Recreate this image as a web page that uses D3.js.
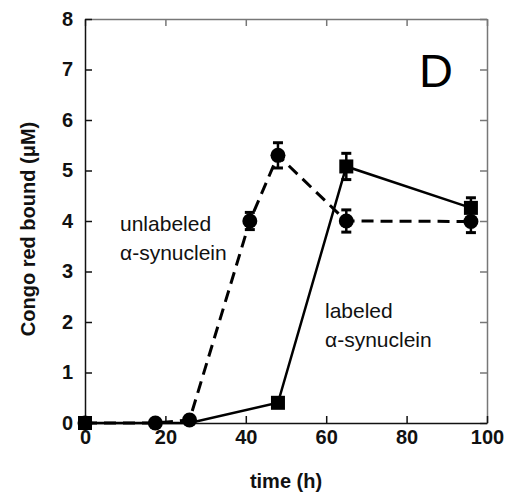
<!DOCTYPE html>
<html>
<head>
<meta charset="utf-8">
<script src="https://cdn.jsdelivr.net/npm/d3@7"></script>
<style>
  body { margin: 0; background: #fff; }
  svg { font-family: "Liberation Sans", Arial, sans-serif; }
</style>
</head>
<body>
<script>
// unlabeled alpha-synuclein (circles, dashed)
var unlabeledTime = [0, 17.5, 26, 41, 48, 65, 96];
var unlabeledValue = [0, 0, 0.06, 4.0, 5.3, 4.0, 3.99];
var unlabeledErr = [0, 0, 0, 0.17, 0.25, 0.22, 0.22];

// labeled alpha-synuclein (squares, solid)
var labeledTime = [0, 26, 48, 65, 96];
var labeledValue = [0, 0, 0.4, 5.08, 4.26];
var labeledErr = [0, 0, 0, 0.26, 0.2];
var labeledMarker = [true, false, true, true, true];

var xTicks = [0, 20, 40, 60, 80, 100];
var yTicks = [0, 1, 2, 3, 4, 5, 6, 7, 8];

var svg = d3.select("body").append("svg").attr("width", 510).attr("height", 496);

var x = d3.scaleLinear().domain([0, 100]).range([85, 487]);
var y = d3.scaleLinear().domain([0, 8]).range([423, 19]);

function styleAxis(g, col) {
  g.select(".domain").attr("stroke", col).attr("stroke-width", 1.5);
  g.selectAll(".tick line").attr("stroke", col).attr("stroke-width", 1.5);
  g.selectAll("text").attr("font-size", 20).attr("font-weight", "bold").attr("fill", "#111");
}

// top and right: ticks only
svg.append("g").attr("transform", "translate(0,19)")
  .call(d3.axisTop(x).tickValues(xTicks).tickSizeInner(-7).tickSizeOuter(0).tickFormat(""))
  .call(styleAxis, "#777");
svg.append("g").attr("transform", "translate(487,0)")
  .call(d3.axisRight(y).tickValues(yTicks).tickSizeInner(-7).tickSizeOuter(0).tickFormat(""))
  .call(styleAxis, "#777");

svg.append("g").attr("transform", "translate(0,423)")
  .call(d3.axisBottom(x).tickValues(xTicks).tickSizeInner(-7).tickSizeOuter(0).tickPadding(7))
  .call(styleAxis, "#111");
svg.append("g").attr("transform", "translate(85,0)")
  .call(d3.axisLeft(y).tickValues(yTicks).tickSizeInner(-7).tickSizeOuter(0).tickPadding(12))
  .call(styleAxis, "#111");

var unlabeled = unlabeledTime.map(function(t, i) {
  return { t: t, v: unlabeledValue[i], e: unlabeledErr[i] };
});
var labeled = labeledTime.map(function(t, i) {
  return { t: t, v: labeledValue[i], e: labeledErr[i], m: labeledMarker[i] };
});

var line = d3.line().x(function(d) { return x(d.t); }).y(function(d) { return y(d.v); });

svg.append("path").datum(labeled)
  .attr("d", line).attr("fill", "none").attr("stroke", "#000").attr("stroke-width", 2.5);
svg.append("path").datum(unlabeled)
  .attr("d", line).attr("fill", "none").attr("stroke", "#000").attr("stroke-width", 3)
  .attr("stroke-dasharray", "12,7");

function errorBars(data) {
  var g = svg.append("g").selectAll("g")
    .data(data.filter(function(d) { return d.e > 0; }))
    .enter().append("g");
  g.append("line")
    .attr("x1", function(d) { return x(d.t); }).attr("x2", function(d) { return x(d.t); })
    .attr("y1", function(d) { return y(d.v - d.e); }).attr("y2", function(d) { return y(d.v + d.e); })
    .attr("stroke", "#000").attr("stroke-width", 2.5);
  [-1, 1].forEach(function(s) {
    g.append("line")
      .attr("x1", function(d) { return x(d.t) - 5; }).attr("x2", function(d) { return x(d.t) + 5; })
      .attr("y1", function(d) { return y(d.v + s * d.e); }).attr("y2", function(d) { return y(d.v + s * d.e); })
      .attr("stroke", "#000").attr("stroke-width", 3);
  });
}
errorBars(labeled);
errorBars(unlabeled);

svg.selectAll("rect.sq")
  .data(labeled.filter(function(d) { return d.m; }))
  .enter().append("rect")
    .attr("class", "sq")
    .attr("x", function(d) { return x(d.t) - 7; })
    .attr("y", function(d) { return y(d.v) - 7; })
    .attr("width", 14).attr("height", 14)
    .attr("fill", "#000");

svg.selectAll("circle.dot")
  .data(unlabeled)
  .enter().append("circle")
    .attr("class", "dot")
    .attr("cx", function(d) { return x(d.t); })
    .attr("cy", function(d) { return y(d.v); })
    .attr("r", 7.5)
    .attr("fill", "#000");

// titles
svg.append("text").attr("x", 286).attr("y", 488).attr("text-anchor", "middle")
  .attr("font-size", 20).attr("font-weight", "bold").attr("fill", "#111").text("time (h)");
svg.append("text").attr("transform", "translate(35,229) rotate(-90)").attr("text-anchor", "middle")
  .attr("font-size", 20).attr("font-weight", "bold").attr("fill", "#111").text("Congo red bound (μM)");

svg.append("text").attr("x", 419).attr("y", 87).attr("font-size", 47).attr("fill", "#000").text("D");

function note(x0, y0, lines) {
  var t = svg.append("text").attr("font-size", 21).attr("fill", "#111");
  lines.forEach(function(s, i) {
    t.append("tspan").attr("x", x0).attr("y", y0 + i * 29).text(s);
  });
}
note(120, 231, ["unlabeled", "α-synuclein"]);
note(325, 318, ["labeled", "α-synuclein"]);
</script>
</body>
</html>
